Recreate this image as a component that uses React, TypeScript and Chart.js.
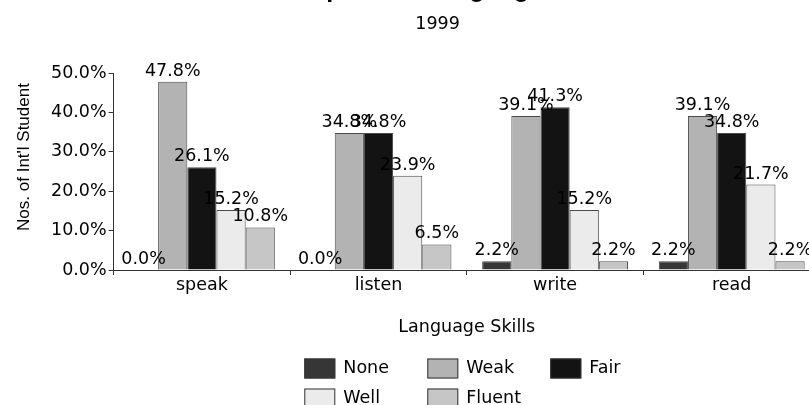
import React, { useEffect, useRef } from "react";
import { Chart, registerables } from "chart.js";

Chart.register(...registerables);

const categories = ["speak", "listen", "write", "read"];
const seriesNames = ["None", "Weak", "Fair", "Well", "Fluent"];
const noneValues = [0.0, 0.0, 2.2, 2.2];
const weakValues = [47.8, 34.8, 39.1, 39.1];
const fairValues = [26.1, 34.8, 41.3, 34.8];
const wellValues = [15.2, 23.9, 15.2, 21.7];
const fluentValues = [10.8, 6.5, 2.2, 2.2];
const seriesColors = ["#363636", "#b3b3b3", "#131313", "#ebebeb", "#c6c6c6"];
const yTickValues = [0, 10, 20, 30, 40, 50];
const chartTitle = "Perception of Language Skills";
const chartSubtitle = "1999";
const xAxisTitle = "Language Skills";
const yAxisTitle = "Nos. of Int'l Student";

const FONT = "'DejaVu Sans', sans-serif";
const FONT_SIZE = 17.5;

const seriesValues = [noneValues, weakValues, fairValues, wellValues, fluentValues];

const overlayPlugin = {
  id: "overlayTexts",
  afterDatasetsDraw(chart: any) {
    const ctx = chart.ctx;
    ctx.save();
    ctx.font = `${FONT_SIZE}px ${FONT}`;
    ctx.fillStyle = "#000";
    ctx.textAlign = "center";
    ctx.textBaseline = "alphabetic";
    chart.data.datasets.forEach((ds: any, i: number) => {
      const meta = chart.getDatasetMeta(i);
      meta.data.forEach((el: any, j: number) => {
        const v = ds.data[j];
        ctx.fillText(v.toFixed(1) + "%", el.x, el.y - 6);
      });
    });
    ctx.restore();
  },
  afterDraw(chart: any) {
    const ctx = chart.ctx;
    const area = chart.chartArea;
    ctx.save();
    // title & subtitle
    ctx.fillStyle = "#000";
    ctx.textAlign = "center";
    ctx.textBaseline = "alphabetic";
    ctx.font = `bold 25px 'Liberation Sans', Arial, sans-serif`;
    ctx.fillText(chartTitle, area.left + 323, area.top - 76);
    ctx.font = `${FONT_SIZE}px ${FONT}`;
    ctx.fillText(chartSubtitle, area.left + 324, area.top - 43.7);
    // y axis title
    ctx.save();
    ctx.translate(area.left - 89, area.top + 84);
    ctx.rotate(-Math.PI / 2);
    ctx.textAlign = "center";
    ctx.textBaseline = "middle";
    ctx.font = `17px 'Liberation Sans', Arial, sans-serif`;
    ctx.fillText(yAxisTitle, 0, 0);
    ctx.restore();
    // legend
    const cx = (area.left + area.right) / 2;
    ctx.textAlign = "left";
    ctx.textBaseline = "middle";
    ctx.font = `${FONT_SIZE}px ${FONT}`;
    chart.data.datasets.forEach((ds: any, i: number) => {
      const col = i % 3;
      const row = Math.floor(i / 3);
      const bx = cx - 162.5 + col * 123;
      const by = area.bottom + 98.5 + row * 30;
      ctx.fillStyle = ds.backgroundColor;
      ctx.fillRect(bx, by - 10, 31, 20);
      ctx.strokeStyle = "#333";
      ctx.lineWidth = 1;
      ctx.strokeRect(bx + 0.5, by - 10 + 0.5, 30, 19);
      ctx.fillStyle = "#000";
      ctx.fillText(ds.label, bx + 39, by);
    });
    ctx.restore();
  },
};

export default function App() {
  const canvasRef = useRef<HTMLCanvasElement | null>(null);

  useEffect(() => {
    const canvas = canvasRef.current;
    if (!canvas) return;
    const chart = new Chart(canvas, {
      type: "bar",
      data: {
        labels: categories,
        datasets: seriesNames.map((name, i) => ({
          label: name,
          data: seriesValues[i],
          backgroundColor: seriesColors[i],
          borderColor: "#4a4a4a",
          borderWidth: 1,
          categoryPercentage: 0.826,
          barPercentage: 1.0,
        })),
      },
      options: {
        responsive: false,
        animation: false,
        devicePixelRatio: 1,
        layout: { padding: { left: 49, right: 10, top: 103, bottom: 63.5 } },
        plugins: {
          legend: { display: false },
          title: { display: false },
          tooltip: { enabled: false },
        },
        scales: {
          x: {
            offset: true,
            grid: {
              offset: true,
              drawOnChartArea: false,
              drawTicks: true,
              tickLength: 5,
              color: "#333",
            },
            border: { display: true, color: "#333", width: 1 },
            ticks: {
              color: "#000",
              padding: 0,
              font: { family: FONT, size: FONT_SIZE },
            },
            title: {
              display: true,
              text: xAxisTitle,
              color: "#000",
              padding: { top: 20.5, bottom: 4 },
              font: { family: FONT, size: FONT_SIZE },
            },
          },
          y: {
            min: 0,
            max: 50,
            afterBuildTicks: (scale: any) => {
              scale.ticks = yTickValues.map((v) => ({ value: v }));
            },
            grid: {
              drawOnChartArea: false,
              drawTicks: true,
              tickLength: 5,
              color: "#333",
            },
            border: { display: true, color: "#333", width: 1 },
            ticks: {
              color: "#000",
              padding: 2,
              font: { family: FONT, size: FONT_SIZE },
              callback: (v: any) => Number(v).toFixed(1) + "%",
            },
            title: { display: false },
          },
        },
      },
      plugins: [overlayPlugin],
    } as any);
    return () => chart.destroy();
  }, []);

  return (
    <div
      style={{
        position: "absolute",
        top: -30,
        left: 0,
        width: 809,
        height: 435,
        overflow: "hidden",
        background: "#fff",
      }}
    >
      <canvas ref={canvasRef} width={830} height={435} style={{ display: "block" }} />
    </div>
  );
}
